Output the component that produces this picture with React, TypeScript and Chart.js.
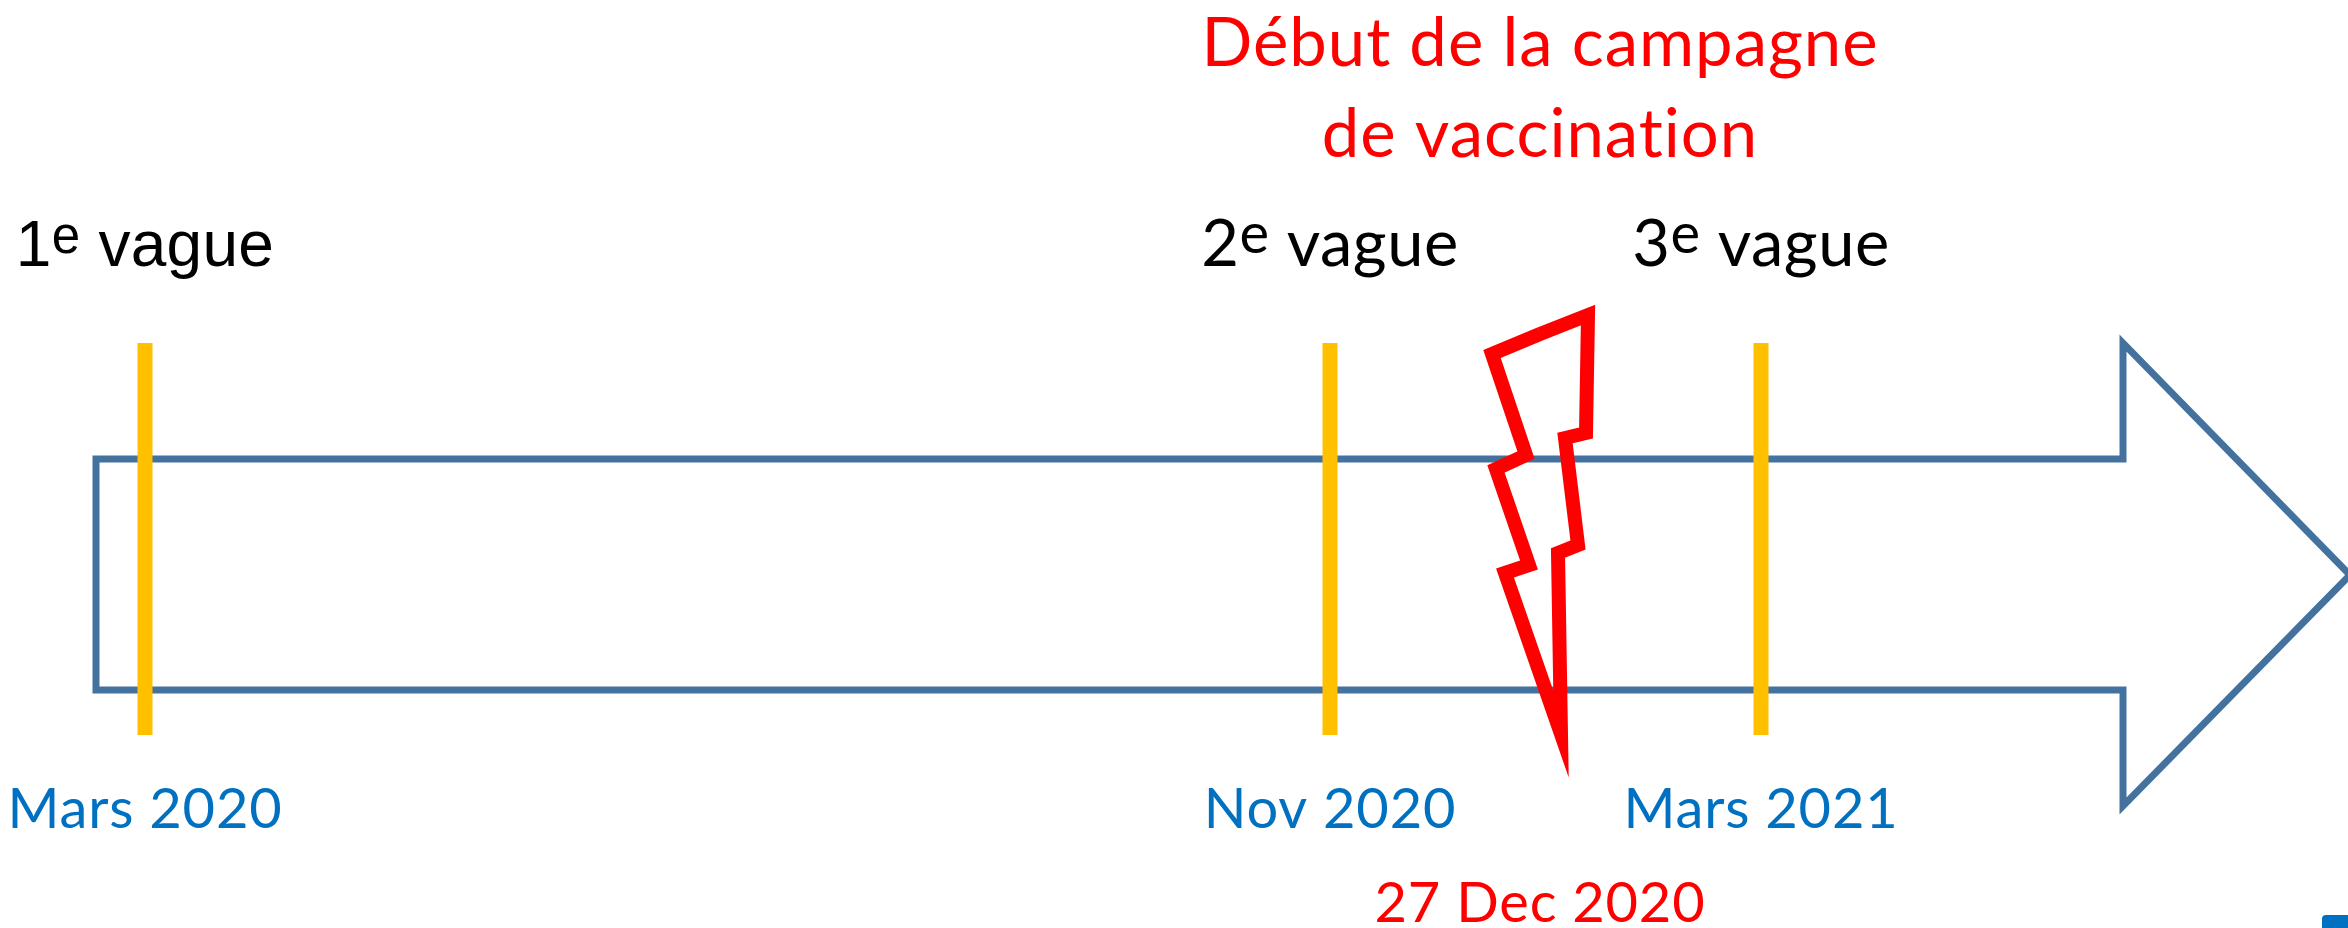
import React, { useEffect, useRef } from 'react';
import { Chart, registerables } from 'chart.js';

Chart.register(...registerables);

const W = 2348;
const H = 928;

// Timeline events (schematic positions along the arrow)
const waveNumbers = ['1', '2', '3'];
const eventDates = ['Mars 2020', 'Nov 2020', 'Mars 2021'];
const eventPositions = [145, 1330, 1761];
const markerSpan = [343, 735];

// Vaccination campaign start
const vaccinationTitle = ['Début de la campagne', 'de vaccination'];
const vaccinationDate = '27 Dec 2020';
const vaccinationPosition = 1540;

// Timeline arrow outline
const arrowX = [96, 96, 2123, 2123, 2350, 2123, 2123, 96, 96];
const arrowY = [575, 459, 459, 343, 575, 806, 690, 690, 575];

// Lightning bolt outline
const boltX = [1540, 1588, 1586, 1565, 1578, 1558, 1561, 1505, 1529, 1496, 1526, 1492, 1540];
const boltY = [334, 315, 433, 438, 545, 553, 734, 573, 565, 469, 455, 354, 334];

type Part = { t: string; sup?: boolean };

function drawRich(
  ctx: CanvasRenderingContext2D,
  cx: number,
  by: number,
  parts: Part[],
  family: string,
  size: number,
  color: string,
  spacing = 0,
  supScale = 0.8,
  supRaise = 0.2
) {
  const c: any = ctx;
  c.letterSpacing = `${spacing}px`;
  const fonts = parts.map((p) => `${p.sup ? Math.round(size * supScale) : size}px ${family}`);
  let total = 0;
  const widths = parts.map((p, i) => {
    ctx.font = fonts[i];
    const w = ctx.measureText(p.t).width;
    total += w;
    return w;
  });
  let x = cx - total / 2;
  ctx.fillStyle = color;
  ctx.textAlign = 'left';
  ctx.textBaseline = 'alphabetic';
  parts.forEach((p, i) => {
    ctx.font = fonts[i];
    ctx.fillText(p.t, x, p.sup ? by - size * supRaise : by);
    x += widths[i];
  });
  c.letterSpacing = '0px';
}

const textPlugin = {
  id: 'timelineText',
  afterDatasetsDraw(chart: any) {
    const ctx: CanvasRenderingContext2D = chart.ctx;
    const xs = chart.scales.x;
    const ys = chart.scales.y;
    ctx.save();
    const sans = '"Lato", "Noto Sans", sans-serif';
    // wave labels
    waveNumbers.forEach((n, i) => {
      const cx = xs.getPixelForValue(eventPositions[i]);
      const by = ys.getPixelForValue(266);
      if (i === 0) {
        drawRich(ctx, cx, by, [{ t: n }, { t: 'e', sup: true }, { t: ' vague' }], '"Liberation Sans", Arial, sans-serif', 64, '#000000', 0.3, 0.8, 0.2);
      } else {
        drawRich(ctx, cx, by, [{ t: n }, { t: 'e', sup: true }, { t: ' vague' }], sans, 65, '#000000', 0.5, 0.86, 0.2);
      }
    });
    // dates
    eventDates.forEach((d, i) => {
      const cx = xs.getPixelForValue(eventPositions[i]);
      drawRich(ctx, cx, ys.getPixelForValue(828), [{ t: d }], sans, 56, '#0070C0', 0.8);
    });
    // vaccination
    const vx = xs.getPixelForValue(vaccinationPosition);
    drawRich(ctx, vx, ys.getPixelForValue(66), [{ t: vaccinationTitle[0] }], sans, 67, '#FF0000', 1);
    drawRich(ctx, vx, ys.getPixelForValue(157), [{ t: vaccinationTitle[1] }], sans, 67, '#FF0000', 1);
    drawRich(ctx, vx, ys.getPixelForValue(922), [{ t: vaccinationDate }], sans, 56, '#FF0000', 0.8);

    // clipped logo fragment in the bottom-right corner
    ctx.fillStyle = '#0070C0';
    ctx.beginPath();
    const lx = xs.getPixelForValue(2322);
    const ly = ys.getPixelForValue(915);
    ctx.moveTo(lx, chart.height);
    ctx.lineTo(lx, ly + 4);
    ctx.quadraticCurveTo(lx, ly, lx + 4, ly);
    ctx.lineTo(chart.width, ly);
    ctx.lineTo(chart.width, chart.height);
    ctx.closePath();
    ctx.fill();
    ctx.restore();
  },
};

export default function App() {
  const ref = useRef<HTMLCanvasElement | null>(null);

  useEffect(() => {
    if (!ref.current) return;
    const line = (xsArr: number[], ysArr: number[]) => xsArr.map((x, i) => ({ x, y: ysArr[i] }));
    const datasets: any[] = [];
    datasets.push({
      data: line(boltX, boltY),
      showLine: true,
      borderColor: '#FF0000',
      borderWidth: 14,
      borderJoinStyle: 'miter',
      borderCapStyle: 'butt',
      pointRadius: 0,
      fill: false,
      tension: 0,
      clip: false,
      order: 0,
    });
    eventPositions.forEach((p) => {
      datasets.push({
        data: [
          { x: p, y: markerSpan[0] },
          { x: p, y: markerSpan[1] },
        ],
        showLine: true,
        borderColor: '#FFC000',
        borderWidth: 15,
        borderCapStyle: 'butt',
        pointRadius: 0,
        fill: false,
        order: 1,
      });
    });
    datasets.push({
      data: line(arrowX, arrowY),
      showLine: true,
      borderColor: '#44729E',
      borderWidth: 7,
      borderJoinStyle: 'miter',
      borderCapStyle: 'butt',
      pointRadius: 0,
      fill: false,
      tension: 0,
      clip: false,
      order: 2,
    });

    const chart = new Chart(ref.current, {
      type: 'scatter',
      data: { datasets },
      options: {
        animation: false,
        responsive: false,
        devicePixelRatio: 1,
        events: [],
        layout: { padding: 0 },
        plugins: { legend: { display: false }, tooltip: { enabled: false } },
        scales: {
          x: { type: 'linear', min: 0, max: W, display: false },
          y: { type: 'linear', min: 0, max: H, reverse: true, display: false },
        },
      },
      plugins: [textPlugin],
    } as any);
    return () => chart.destroy();
  }, []);

  return (
    <div style={{ position: 'fixed', left: 0, top: 0, width: W, height: H, background: '#ffffff' }}>
      <canvas ref={ref} width={W} height={H} style={{ display: 'block' }} />
    </div>
  );
}
